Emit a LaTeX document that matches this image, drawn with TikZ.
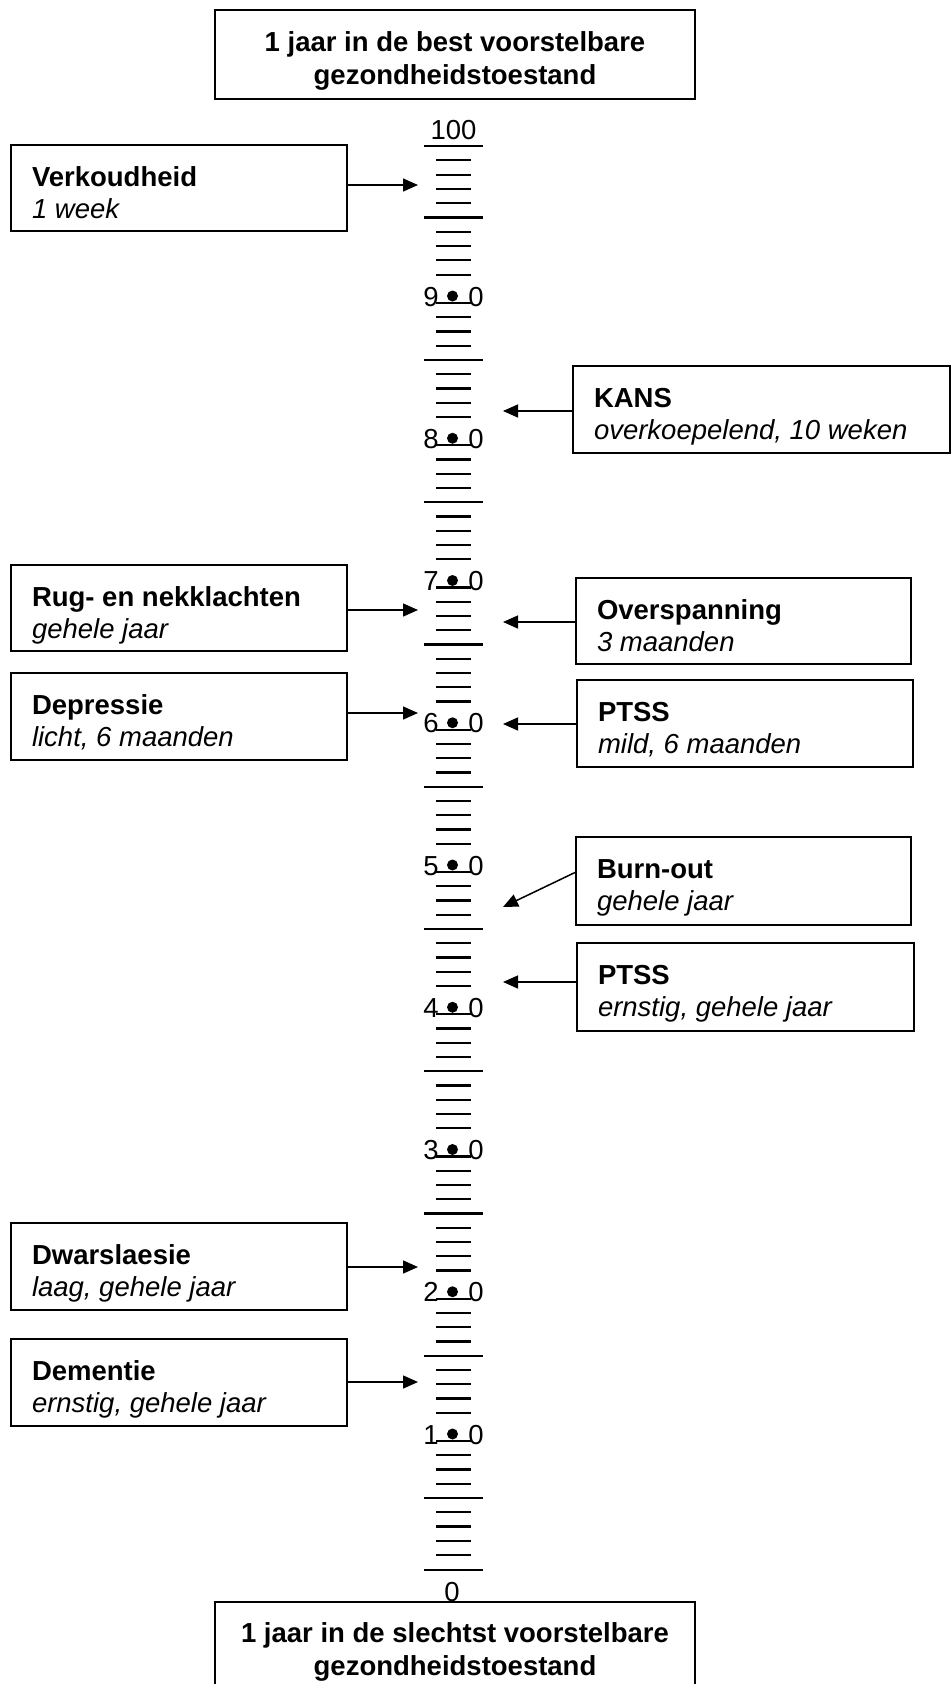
\documentclass[tikz,border=0pt]{standalone}
\usepackage{fontspec}
\setmainfont{Liberation Sans}
\usetikzlibrary{arrows.meta}
\newcommand\infobox[7]{%
  \node[box, minimum width={(#4-#2)*1pt}, minimum height={(#5-#3)*1pt}] (#1) at (#2,#3) {};
  \node[hd] (#1-a) at ([xshift=21pt,yshift=-41pt]#1.north west) {#6};
  \node[sub] (#1-b) at ([xshift=21pt,yshift=-73pt]#1.north west) {#7};
}
\begin{document}
\begin{tikzpicture}[x=1pt,y=-1pt,
  every node/.style={inner sep=0pt, outer sep=0pt},
  txt/.style={font=\fontsize{27.5}{33}\selectfont},
  hd/.style={font=\fontsize{27.5}{33}\selectfont\bfseries, anchor=base west},
  sub/.style={font=\fontsize{27.5}{33}\selectfont\itshape, anchor=base west},
  box/.style={draw, line width=1.4pt, anchor=north west},
  tick/.style={line width=2.1pt},
  arr/.style={line width=1.5pt, -{Triangle[length=15pt,width=13pt]}},
]
\useasboundingbox (0,0) rectangle (952,1684);
\clip (0,0) rectangle (952,1684);

% title boxes
\node[box, minimum width=480pt, minimum height=89pt] (top) at (215,10) {};
\node[hd, anchor=base] (top-a) at ([yshift=-41pt]top.north) {1 jaar in de best voorstelbare};
\node[hd, anchor=base] (top-b) at ([yshift=-74pt]top.north) {gezondheidstoestand};

\node[box, minimum width=480pt, minimum height=92pt] (bot) at (215,1602) {};
\node[hd, anchor=base] (bot-a) at ([yshift=-40pt]bot.north) {1 jaar in de slechtst voorstelbare};
\node[hd, anchor=base] (bot-b) at ([yshift=-73pt]bot.north) {gezondheidstoestand};

% scale
\node[txt, anchor=base] (n100) at (453.5,139) {100};
\node[txt, anchor=base] (n0) at (452,1601) {0};
\foreach \y in {146,217.5,1570} \draw[tick] (424,\y) -- (483,\y);
\foreach \y in {160.3,174.6,188.9,203.2,231.8,246.1,260.4,274.7} \draw[tick] (436,\y) -- (471,\y);
\foreach \n in {0,...,8} {
  \pgfmathsetmacro\L{303+142.25*\n}
  \pgfmathtruncatemacro\d{9-\n}
  \draw[tick] (436,\L) -- (471,\L);
  \node[txt, anchor=base] (lab\d a) at (431,\L+3) {\d};
  \node[txt, anchor=base] (lab\d b) at (476,\L+3) {0};
  \fill (452.5,\L-7) circle (5.5);
  \foreach \k in {1,2,3,5,6,7,8} \draw[tick] (436,\L+14.25*\k) -- (471,\L+14.25*\k);
  \draw[tick] (424,\L+57) -- (483,\L+57);
}

% info boxes
\infobox{verk}{11}{145}{347}{231}{Verkoudheid}{1 week}
\infobox{kans}{573}{366}{950}{453}{KANS}{overkoepelend, 10 weken}
\infobox{rug}{11}{565}{347}{651}{Rug- en nekklachten}{gehele jaar}
\infobox{over}{576}{578}{911}{664}{Overspanning}{3 maanden}
\infobox{depr}{11}{673}{347}{760}{Depressie}{licht, 6 maanden}
\infobox{ptsa}{577}{680}{913}{767}{PTSS}{mild, 6 maanden}
\infobox{burn}{576}{837}{911}{925}{Burn-out}{gehele jaar}
\infobox{ptsb}{577}{943}{914}{1031}{PTSS}{ernstig, gehele jaar}
\infobox{dwar}{11}{1223}{347}{1310}{Dwarslaesie}{laag, gehele jaar}
\infobox{deme}{11}{1339}{347}{1426}{Dementie}{ernstig, gehele jaar}

% arrows
\coordinate (t-verk) at (418,185);
\coordinate (t-rug) at (418,610);
\coordinate (t-depr) at (418,713);
\coordinate (t-dwar) at (418,1267);
\coordinate (t-deme) at (418,1382);
\coordinate (t-kans) at (503,411);
\coordinate (t-over) at (503,622);
\coordinate (t-ptsa) at (503,724);
\coordinate (s-burn) at (576,872);
\coordinate (t-burn) at (503,907);
\coordinate (t-ptsb) at (503,982);
\foreach \b in {verk,rug,depr,dwar,deme} \draw[arr] (\b.east |- t-\b) -- (t-\b);
\foreach \b in {kans,over,ptsa,ptsb} \draw[arr] (\b.west |- t-\b) -- (t-\b);
\draw[arr] (burn.west |- s-burn) -- (t-burn);
\end{tikzpicture}
\end{document}
